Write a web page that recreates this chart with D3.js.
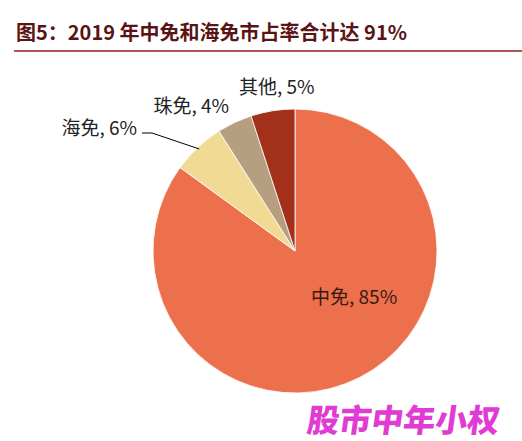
<!DOCTYPE html>
<html><head><meta charset="utf-8">
<script src="https://cdn.jsdelivr.net/npm/d3@7"></script>
<style>body{margin:0;background:#fff}</style>
</head><body>
<div id="chart"></div>
<script>
// data
const names = ["中免", "海免", "珠免", "其他"];
const shares = [85, 6, 4, 5];
const colors = ["#EC704C", "#F0DA94", "#B59F80", "#A3301A"];

const width = 522, height = 441;
const cx = 295, cy = 251, r = 142;

const svg = d3.select("#chart").append("svg")
    .attr("width", width).attr("height", height);

// title + rule
svg.append("text").attr("x", 16).attr("y", 40)
    .attr("font-family", "Noto Sans CJK SC").attr("font-weight", "bold")
    .attr("font-size", 20).attr("fill", "#5a1414")
    .text("图5：2019 年中免和海免市占率合计达 91%");
svg.append("line").attr("x1", 14).attr("x2", 522).attr("y1", 51).attr("y2", 51)
    .attr("stroke", "#9b1b1b").attr("stroke-width", 1.5);

const pie = d3.pie().sort(null).value(d => d.v);
const arcs = pie(names.map((n, i) => ({ n, v: shares[i], c: colors[i] })));
const arc = d3.arc().innerRadius(0).outerRadius(r);

const g = svg.append("g").attr("transform", `translate(${cx},${cy})`);
g.selectAll("path").data(arcs).enter().append("path")
    .attr("d", arc)
    .attr("fill", d => d.data.c)
    .attr("stroke", "#fff").attr("stroke-width", 0.8);

// labels (placed like the original)
const labelPos = {
    "中免": [311, 304, "start"],
    "海免": [137, 135, "end"],
    "珠免": [229, 113, "end"],
    "其他": [239, 94, "start"]
};
arcs.forEach(d => {
    const p = labelPos[d.data.n];
    svg.append("text").attr("x", p[0]).attr("y", p[1])
        .attr("text-anchor", p[2])
        .attr("font-family", "Noto Sans CJK SC").attr("font-size", 19)
        .attr("fill", d.data.n === "中免" ? "#3a1a10" : "#222")
        .text(`${d.data.n}, ${d.data.v}%`);
});

// leader line for 海免
const hai = arcs[1];
const mid = (hai.startAngle + hai.endAngle) / 2;
const ex = cx + Math.sin(mid) * (r - 2), ey = cy - Math.cos(mid) * (r - 2);
svg.append("polyline")
    .attr("points", `142,133 152,133 ${ex},${ey}`)
    .attr("fill", "none").attr("stroke", "#000").attr("stroke-width", 1);

// watermark
svg.append("text").attr("x", 498).attr("y", 432).attr("text-anchor", "end")
    .attr("font-family", "Noto Sans CJK SC").attr("font-weight", "900")
    .attr("font-size", 32).attr("fill", "#e03cd4")
    .attr("transform", "skewX(-8)").attr("transform-origin", "400 432")
    .text("股市中年小权");
</script>
</body></html>
